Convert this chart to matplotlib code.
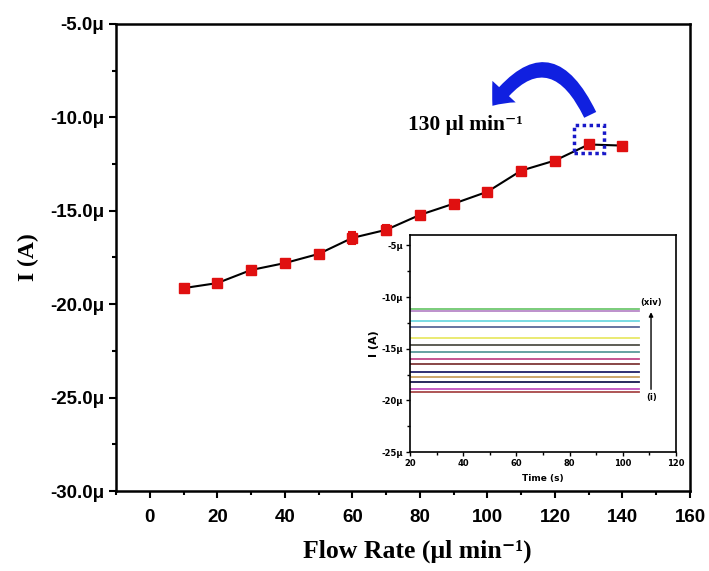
import matplotlib
matplotlib.use("Agg")
import matplotlib.pyplot as plt
from matplotlib.patches import FancyArrowPatch, Rectangle
from matplotlib.ticker import MultipleLocator, FuncFormatter

# ---- main data (current in µA) ----
flow_rate = [10, 20, 30, 40, 50, 60, 70, 80, 90, 100, 110, 120, 130, 140]
current = [-19.14, -18.87, -18.17, -17.80, -17.31, -16.45, -16.02, -15.22,
           -14.62, -13.98, -12.85, -12.31, -11.45, -11.51]
current_err = [0.12, 0.12, 0.12, 0.1, 0.1, 0.34, 0.25, 0.1, 0.12, 0.1, 0.1, 0.1, 0.1, 0.1]

# ---- inset data ----
inset_levels = [-19.2, -18.86, -18.18, -17.73, -17.28, -16.5, -15.96, -15.3,
                -14.67, -13.96, -12.9, -12.35, -11.35, -11.16]
inset_colors = ["#a84848", "#c050c0", "#181850", "#c8a060", "#202068", "#803838",
                "#c04888", "#5a9a9a", "#505048", "#e8e868", "#5a6898", "#70d8e0",
                "#b888c8", "#70c870"]
inset_time = [20, 106]

serif = ["Liberation Serif", "DejaVu Serif"]

fig = plt.figure(figsize=(7.09, 5.71), dpi=100)
ax = fig.add_axes([0.1636, 0.1401, 0.8096, 0.8179])

ax.errorbar(flow_rate, current, yerr=current_err, color="black", lw=1.5,
            marker="s", ms=6.5, mfc="#e01010", mec="#e01010",
            ecolor="#e01010", elinewidth=1.5, capsize=3, capthick=1.5, zorder=3)

ax.set_xlim(-10, 160)
ax.set_ylim(-30, -5)
ax.xaxis.set_major_locator(MultipleLocator(20))
ax.xaxis.set_minor_locator(MultipleLocator(10))
ax.yaxis.set_major_locator(MultipleLocator(5))
ax.yaxis.set_minor_locator(MultipleLocator(2.5))
ax.yaxis.set_major_formatter(FuncFormatter(lambda v, p: f"{v:.1f}\u03bc"))
ax.tick_params(which="both", direction="out", width=1.5)
ax.tick_params(which="major", length=5)
ax.tick_params(which="minor", length=3)
for s in ax.spines.values():
    s.set_linewidth(1.8)
for lab in ax.get_xticklabels() + ax.get_yticklabels():
    lab.set_fontfamily("Liberation Sans")
    lab.set_fontweight("bold")
    lab.set_fontsize(13.5)
ax.tick_params(axis="x", pad=8)

ax.set_xlabel("Flow Rate (\u03bcl min\u207b\u00b9)", fontfamily=serif,
              fontweight="bold", fontsize=18.5, labelpad=10)
ax.xaxis.label.set_x(0.525)
ax.set_ylabel("I (A)", fontfamily=serif, fontweight="bold",
              fontsize=17, labelpad=8)

# annotation
ax.text(93.5, -10.4, "130 \u03bcl min\u207b\u00b9", fontfamily=serif,
        fontweight="bold", fontsize=15.5, ha="center", va="center")
arrow = FancyArrowPatch((130.8, -10.0), (101.0, -9.5),
                        connectionstyle="arc3,rad=0.85",
                        arrowstyle="simple,head_width=1.9,head_length=1.1,tail_width=0.8",
                        mutation_scale=12, color="#1020e0", lw=0)
ax.add_patch(arrow)
ax.add_patch(Rectangle((125.6, -11.9), 8.9, 1.5, fill=False, ec="#1818c8",
                       lw=2.5, ls=(0, (1, 1)), zorder=4))

# inset
ins = fig.add_axes([0.5783, 0.2084, 0.3752, 0.38])
for lvl, col in zip(inset_levels, inset_colors):
    ins.plot(inset_time, [lvl, lvl], color=col, lw=1.3)
ins.set_xlim(20, 120)
ins.set_ylim(-25, -4)
ins.xaxis.set_major_locator(MultipleLocator(20))
ins.xaxis.set_minor_locator(MultipleLocator(10))
ins.yaxis.set_major_locator(MultipleLocator(5))
ins.yaxis.set_minor_locator(MultipleLocator(2.5))
ins.yaxis.set_major_formatter(FuncFormatter(lambda v, p: f"{v:.0f}\u03bc"))
ins.tick_params(which="both", direction="out", width=1, labelsize=6, pad=2)
ins.tick_params(which="major", length=3)
ins.tick_params(which="minor", length=2)
for lab in ins.get_xticklabels() + ins.get_yticklabels():
    lab.set_fontweight("bold")
for s in ins.spines.values():
    s.set_linewidth(1.2)
ins.set_xlabel("Time (s)", fontsize=6.5, fontweight="bold", labelpad=4)
ins.set_ylabel("I (A)", fontsize=8, fontweight="bold", labelpad=2)
ins.annotate("", xy=(110.6, -11.2), xytext=(110.6, -19.2),
             arrowprops=dict(arrowstyle="-|>", color="black", lw=1, mutation_scale=6))
ins.text(110.8, -10.5, "(xiv)", fontsize=6, fontweight="bold", ha="center", va="center")
ins.text(110.8, -19.7, "(i)", fontsize=6, fontweight="bold", ha="center", va="center")

fig.savefig("out.png", dpi=100)
